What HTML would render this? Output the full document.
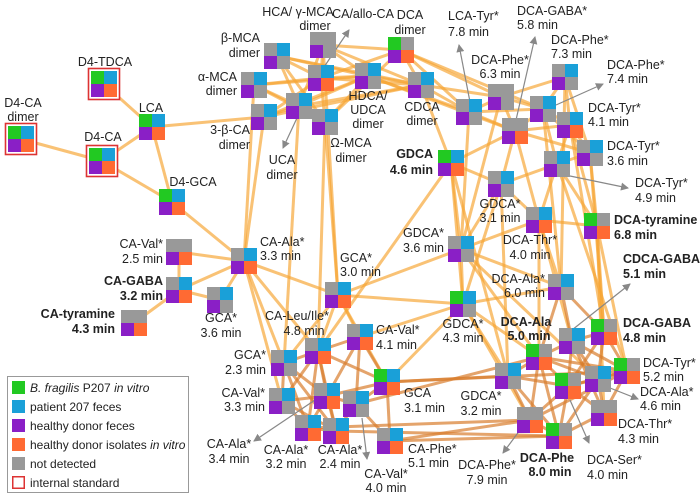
<!DOCTYPE html>
<html><head><meta charset="utf-8"><style>
body{margin:0;background:#fff;}
svg{display:block;font-family:"Liberation Sans",Arial,sans-serif;font-size:12.5px;fill:#222;}
.b{font-weight:bold;}
.lg{font-size:12px;}
</style></head><body>
<svg id="s" width="700" height="498" viewBox="0 0 700 498" xmlns="http://www.w3.org/2000/svg">
<defs><marker id="ar" markerWidth="8" markerHeight="8" refX="7" refY="4" orient="auto" markerUnits="userSpaceOnUse"><path d="M0,0 L8,4 L0,8 z" fill="#888"/></marker></defs>
<g id="edges"></g>
<g id="arrows" stroke="#888" stroke-width="1.2" fill="none">
<line x1="322" y1="70" x2="349" y2="30" marker-end="url(#ar)"/>
<line x1="297" y1="118" x2="283" y2="148" marker-end="url(#ar)"/>
<line x1="470" y1="102" x2="459" y2="45" marker-end="url(#ar)"/>
<line x1="516" y1="120" x2="535" y2="37" marker-end="url(#ar)"/>
<line x1="556" y1="105" x2="603" y2="84" marker-end="url(#ar)"/>
<line x1="570" y1="176" x2="628" y2="188" marker-end="url(#ar)"/>
<line x1="572" y1="330" x2="630" y2="284" marker-end="url(#ar)"/>
<line x1="605" y1="386" x2="638" y2="399" marker-end="url(#ar)"/>
<line x1="570" y1="400" x2="589" y2="443" marker-end="url(#ar)"/>
<line x1="520" y1="430" x2="503" y2="453" marker-end="url(#ar)"/>
<line x1="362" y1="418" x2="367" y2="459" marker-end="url(#ar)"/>
<line x1="315" y1="400" x2="254" y2="441" marker-end="url(#ar)"/>
</g>
<g id="nodes"></g>
<g>
<text x="23" y="107" text-anchor="middle">D4-CA</text><text x="23" y="121" text-anchor="middle">dimer</text>
<text x="105" y="66" text-anchor="middle">D4-TDCA</text>
<text x="103" y="141" text-anchor="middle">D4-CA</text>
<text x="151" y="112" text-anchor="middle">LCA</text>
<text x="193" y="186" text-anchor="middle">D4-GCA</text>
<text x="260" y="42" text-anchor="end">β-MCA</text><text x="260" y="57" text-anchor="end">dimer</text>
<text x="298" y="16" text-anchor="middle">HCA/ γ-MCA</text><text x="315" y="30" text-anchor="middle">dimer</text>
<text x="237" y="81" text-anchor="end">α-MCA</text><text x="237" y="95" text-anchor="end">dimer</text>
<text x="250" y="134" text-anchor="end">3-β-CA</text><text x="250" y="149" text-anchor="end">dimer</text>
<text x="282" y="164" text-anchor="middle">UCA</text><text x="282" y="179" text-anchor="middle">dimer</text>
<text x="351" y="147" text-anchor="middle">Ω-MCA</text><text x="351" y="162" text-anchor="middle">dimer</text>
<text x="363" y="18" text-anchor="middle">CA/allo-CA</text>
<text x="410" y="19" text-anchor="middle">DCA</text><text x="410" y="34" text-anchor="middle">dimer</text>
<text x="368" y="100" text-anchor="middle">HDCA/</text><text x="368" y="114" text-anchor="middle">UDCA</text><text x="368" y="128" text-anchor="middle">dimer</text>
<text x="422" y="111" text-anchor="middle">CDCA</text><text x="422" y="125" text-anchor="middle">dimer</text>
<text x="448" y="20">LCA-Tyr*</text><text x="448" y="36">7.8 min</text>
<text x="517" y="15">DCA-GABA*</text><text x="517" y="29">5.8 min</text>
<text x="500" y="64" text-anchor="middle">DCA-Phe*</text><text x="500" y="78" text-anchor="middle">6.3 min</text>
<text x="551" y="44">DCA-Phe*</text><text x="551" y="58">7.3 min</text>
<text x="607" y="69">DCA-Phe*</text><text x="607" y="83">7.4 min</text>
<text x="588" y="112">DCA-Tyr*</text><text x="588" y="126">4.1 min</text>
<text x="607" y="150">DCA-Tyr*</text><text x="607" y="165">3.6 min</text>
<text x="635" y="187">DCA-Tyr*</text><text x="635" y="202">4.9 min</text>
<text class="b" x="433" y="158" text-anchor="end">GDCA</text><text class="b" x="433" y="174" text-anchor="end">4.6 min</text>
<text x="500" y="208" text-anchor="middle">GDCA*</text><text x="500" y="222" text-anchor="middle">3.1 min</text>
<text x="530" y="244" text-anchor="middle">DCA-Thr*</text><text x="530" y="259" text-anchor="middle">4.0 min</text>
<text class="b" x="614" y="224">DCA-tyramine</text><text class="b" x="614" y="239">6.8 min</text>
<text x="444" y="237" text-anchor="end">GDCA*</text><text x="444" y="252" text-anchor="end">3.6 min</text>
<text x="463" y="328" text-anchor="middle">GDCA*</text><text x="463" y="342" text-anchor="middle">4.3 min</text>
<text x="260" y="246">CA-Ala*</text><text x="260" y="260">3.3 min</text>
<text x="340" y="262">GCA*</text><text x="340" y="276">3.0 min</text>
<text x="221" y="322" text-anchor="middle">GCA*</text><text x="221" y="337" text-anchor="middle">3.6 min</text>
<text x="297" y="320" text-anchor="middle">CA-Leu/Ile*</text><text x="304" y="335" text-anchor="middle">4.8 min</text>
<text x="376" y="334">CA-Val*</text><text x="376" y="349">4.1 min</text>
<text x="266" y="359" text-anchor="end">GCA*</text><text x="266" y="374" text-anchor="end">2.3 min</text>
<text x="163" y="248" text-anchor="end">CA-Val*</text><text x="163" y="263" text-anchor="end">2.5 min</text>
<text class="b" x="163" y="285" text-anchor="end">CA-GABA</text><text class="b" x="163" y="300" text-anchor="end">3.2 min</text>
<text class="b" x="115" y="318" text-anchor="end">CA-tyramine</text><text class="b" x="115" y="333" text-anchor="end">4.3 min</text>
<text x="265" y="397" text-anchor="end">CA-Val*</text><text x="265" y="411" text-anchor="end">3.3 min</text>
<text x="229" y="448" text-anchor="middle">CA-Ala*</text><text x="229" y="463" text-anchor="middle">3.4 min</text>
<text x="286" y="454" text-anchor="middle">CA-Ala*</text><text x="286" y="468" text-anchor="middle">3.2 min</text>
<text x="340" y="454" text-anchor="middle">CA-Ala*</text><text x="340" y="468" text-anchor="middle">2.4 min</text>
<text x="404" y="397">GCA</text><text x="404" y="412">3.1 min</text>
<text x="386" y="478" text-anchor="middle">CA-Val*</text><text x="386" y="492" text-anchor="middle">4.0 min</text>
<text x="408" y="453">CA-Phe*</text><text x="408" y="467">5.1 min</text>
<text x="545" y="283" text-anchor="end">DCA-Ala*</text><text x="545" y="297" text-anchor="end">6.0 min</text>
<text class="b" x="526" y="326" text-anchor="middle">DCA-Ala</text><text class="b" x="529" y="340" text-anchor="middle">5.0 min</text>
<text class="b" x="623" y="263">CDCA-GABA</text><text class="b" x="623" y="278">5.1 min</text>
<text class="b" x="623" y="327">DCA-GABA</text><text class="b" x="623" y="342">4.8 min</text>
<text x="481" y="400" text-anchor="middle">GDCA*</text><text x="481" y="415" text-anchor="middle">3.2 min</text>
<text x="643" y="367">DCA-Tyr*</text><text x="643" y="381">5.2 min</text>
<text x="640" y="396">DCA-Ala*</text><text x="640" y="410">4.6 min</text>
<text x="618" y="428">DCA-Thr*</text><text x="618" y="443">4.3 min</text>
<text x="487" y="469" text-anchor="middle">DCA-Phe*</text><text x="487" y="484" text-anchor="middle">7.9 min</text>
<text class="b" x="547" y="462" text-anchor="middle">DCA-Phe</text><text class="b" x="550" y="476" text-anchor="middle">8.0 min</text>
<text x="587" y="464">DCA-Ser*</text><text x="587" y="479">4.0 min</text>
</g>
<g class="lg">
<rect x="7.5" y="376.5" width="181" height="116" fill="#fff" stroke="#999"/>
<rect x="12" y="381" width="13" height="13" fill="#22c922"/>
<rect x="12" y="400" width="13" height="13" fill="#1aa0d8"/>
<rect x="12" y="419" width="13" height="13" fill="#8a1fc6"/>
<rect x="12" y="438" width="13" height="13" fill="#ff6a33"/>
<rect x="12" y="457" width="13" height="13" fill="#999"/>
<rect x="12.75" y="476.75" width="11.5" height="11.5" fill="#fff" stroke="#d33" stroke-width="1.5"/>
<text x="30" y="392"><tspan font-style="italic">B. fragilis</tspan> P207 <tspan font-style="italic">in vitro</tspan></text>
<text x="30" y="411">patient 207 feces</text>
<text x="30" y="430">healthy donor feces</text>
<text x="30" y="449">healthy donor isolates <tspan font-style="italic">in vitro</tspan></text>
<text x="30" y="468">not detected</text>
<text x="30" y="487">internal standard</text>
</g>
</svg>
<script>
var N={1:[8,126,"GBPO",1],2:[91,71,"GBPO",1],3:[89,148,"GBPO",1],4:[139,114,"GBPO"],5:[159,189,"GBPO"],
6:[264,43,"XBPX"],7:[310,32,"XXPX"],8:[241,72,"XBPX"],9:[308,65,"XBPO"],10:[251,104,"XBPX"],11:[286,93,"XBPX"],12:[312,109,"XBPX"],
13:[388,37,"GXPO"],14:[355,63,"XBPX"],15:[408,72,"XBPX"],16:[456,99,"XBPX"],17:[488,84,"XXPX"],18:[502,118,"XXPO"],19:[552,64,"XBPX"],
20:[530,96,"XBPX"],21:[557,112,"XBPO"],22:[577,140,"XBPX"],23:[544,151,"XBPX"],24:[438,150,"GBPO"],25:[488,171,"XBPX"],26:[526,207,"XBPO"],
27:[584,213,"GXPO"],28:[448,236,"XBPX"],29:[450,291,"GBPX"],30:[231,248,"XBPO"],31:[325,282,"XBPO"],32:[207,287,"XBPX"],33:[305,338,"XBPO"],
34:[347,324,"XBPO"],35:[271,350,"XBPX"],36:[166,239,"XXPO"],37:[166,277,"XBPO"],38:[121,310,"XXPO"],39:[269,388,"XBPX"],40:[314,383,"XBPO"],
41:[295,415,"XBPO"],42:[323,418,"XBPO"],43:[374,369,"GBPO"],44:[343,391,"XBPX"],45:[377,428,"XBPO"],46:[548,274,"XBPX"],48:[526,344,"GXPO"],
49:[559,328,"XBPX"],50:[591,319,"GXPO"],51:[495,363,"XBPX"],52:[555,373,"GXPO"],53:[585,366,"XBPX"],54:[614,358,"GXPO"],55:[591,400,"XXPO"],
56:[517,407,"XXPO"],57:[546,423,"GXPO"]};
var C={G:"#22c922",B:"#1aa0d8",P:"#8a1fc6",O:"#ff6a33",X:"#999"};
var E="1-3 2-4 3-4 3-5 4-5 4-10 5-30 30-36 30-37 30-32 36-37 37-38 37-32 6-9 6-11 6-12 6-14 6-15 7-9 7-14 7-13 7-15 7-11 8-11 8-9 8-14 8-12 10-11 10-9 10-14 10-15 9-13 9-14 9-15 9-12 11-14 11-15 12-14 12-13 14-15 13-15 13-16 13-17 14-16 15-16 15-17 15-24 13-20 14-18 10-30 8-30 12-31 12-33 7-31 11-35 16-17 16-18 16-20 17-18 17-20 17-19 18-20 18-21 18-22 18-24 18-25 19-20 19-21 19-22 20-21 20-22 20-23 21-22 21-23 22-23 23-25 23-26 23-27 24-25 24-28 24-29 25-26 25-28 25-29 26-27 26-46 26-28 22-27 21-27 19-46 20-46 21-50 16-28 17-28 18-26 25-51 24-33 28-29 28-31 28-46 28-48 28-53 29-31 29-43 29-46 29-48 29-51 29-34 30-31 30-33 30-35 30-39 31-33 31-34 31-43 31-35 22-50 23-54 27-55 24-51 26-48 26-49 27-50 27-54 29-56";
var D="33-34 33-35 33-39 33-40 33-41 33-42 33-43 34-43 34-40 34-44 35-39 35-40 35-41 35-42 39-40 39-41 39-42 40-41 40-42 40-43 40-44 41-42 42-44 43-44 43-45 44-45 43-51 43-54 45-56 45-57 42-57 44-48 41-56 46-49 46-50 46-48 48-49 48-51 48-52 48-53 48-54 48-56 48-57 49-50 49-52 49-53 49-54 49-55 50-52 50-53 50-54 51-52 51-56 51-57 52-53 52-54 52-55 52-56 52-57 53-54 53-55 53-57 54-55 54-56 55-57 56-57";
var ns="http://www.w3.org/2000/svg",eg=document.getElementById("edges"),ng=document.getElementById("nodes");
function ln(s,col,w,op){s.split(" ").forEach(function(p){var a=p.split("-"),A=N[a[0]],B=N[a[1]];var l=document.createElementNS(ns,"line");
l.setAttribute("x1",A[0]+13);l.setAttribute("y1",A[1]+13);l.setAttribute("x2",B[0]+13);l.setAttribute("y2",B[1]+13);
l.setAttribute("stroke",col);l.setAttribute("stroke-width",w);l.setAttribute("stroke-opacity",op);eg.appendChild(l);});}
ln(E,"#f6a534",3,0.68);ln(D,"#d97d2e",3,0.7);
for(var k in N){var n=N[k],q=n[2];
if(n[3]){var r=document.createElementNS(ns,"rect");r.setAttribute("x",n[0]-2.5);r.setAttribute("y",n[1]-2.5);r.setAttribute("width",31);r.setAttribute("height",31);r.setAttribute("fill","#fff");r.setAttribute("stroke","#d33");r.setAttribute("stroke-width",1.6);ng.appendChild(r);}
for(var i=0;i<4;i++){var r=document.createElementNS(ns,"rect");r.setAttribute("x",n[0]+(i%2)*13);r.setAttribute("y",n[1]+Math.floor(i/2)*13);r.setAttribute("width",13);r.setAttribute("height",13);r.setAttribute("fill",C[q[i]]);ng.appendChild(r);}}
</script>
</body></html>
